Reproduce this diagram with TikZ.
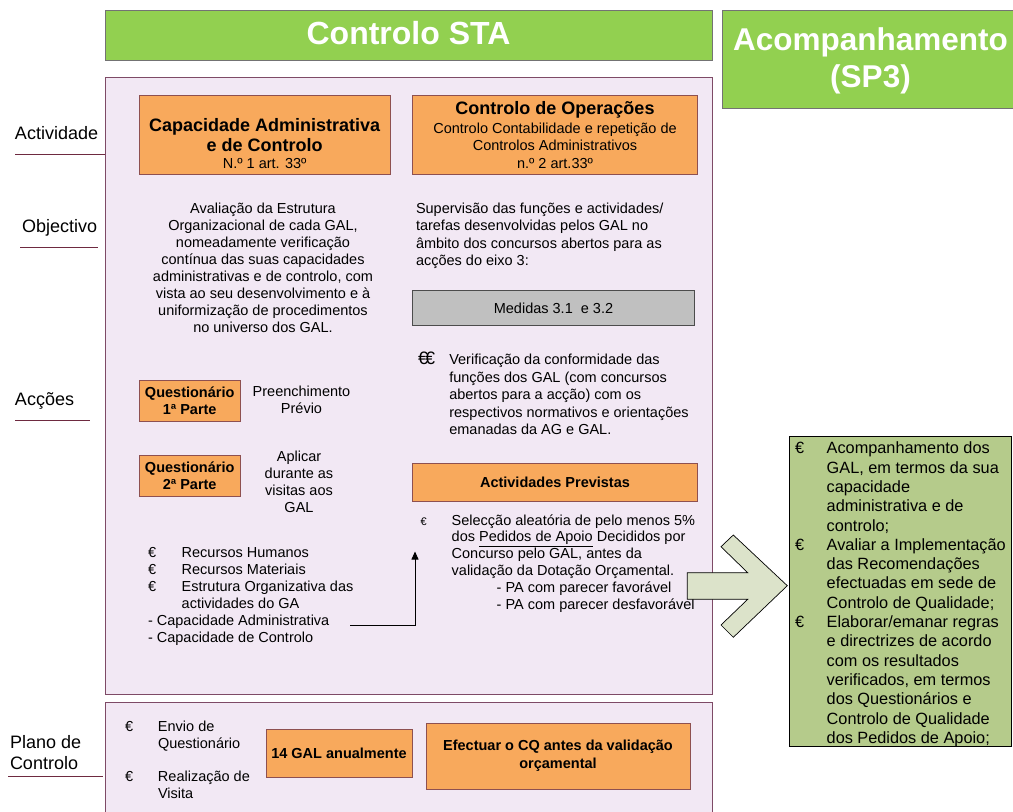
\documentclass[tikz,border=0pt]{standalone}
\usepackage{fontspec}
\setmainfont{Liberation Sans}
\usetikzlibrary{arrows.meta}
\definecolor{topgreen}{HTML}{92D050}
\definecolor{boxorange}{HTML}{F8A95C}
\definecolor{orangeline}{HTML}{8E5050}
\definecolor{panelfill}{HTML}{F2E8F4}
\definecolor{panelline}{HTML}{7E4A66}
\definecolor{rightgreen}{HTML}{B5CB8B}
\definecolor{arrowfill}{HTML}{DCE3CA}
\definecolor{greybox}{HTML}{C0C0C0}
\definecolor{labelline}{HTML}{6E2A40}
\newcommand{\bul}[1]{\makebox[#1][l]{\smash{€}}}
\begin{document}
\begin{tikzpicture}[x=1pt,y=-1pt,
  every node/.style={inner sep=0pt, outer sep=0pt},
  body/.style={font=\fontsize{14.5}{17}\selectfont},
  boldbody/.style={font=\fontsize{14.5}{17}\selectfont\bfseries},
  boxtitle/.style={font=\fontsize{18}{20}\selectfont\bfseries, align=center},
  orangebox/.style={draw=orangeline, fill=boxorange, line width=0.7pt},
  panel/.style={draw=panelline, fill=panelfill, line width=0.8pt},
  sidelabel/.style={font=\fontsize{18}{18}\selectfont, anchor=west},
  labelrule/.style={draw=labelline, line width=0.8pt},
  greenbar/.style={draw=black!55, fill=topgreen, line width=0.6pt, text=white},
]
\useasboundingbox (0,0) rectangle (1013,812);

% top bars
\node[greenbar, minimum width=607pt, minimum height=50pt, anchor=north west] (sta) at (105,10) {};
\node[text=white, font=\fontsize{32}{34}\selectfont\bfseries] (stat) at (408.5,33) {Controlo STA};
\node[greenbar, minimum width=298pt, minimum height=98pt, anchor=north west] (acomp) at (722,10) {};
\node[text=white, align=center, font=\fontsize{31.5}{37}\selectfont\bfseries] (acompt) at (870.5,61) {Acompanhamento\\(SP3)};

% panels
\node[panel, minimum width=607pt, minimum height=617pt, anchor=north west] (main) at (105,77) {};
\node[panel, minimum width=607pt, minimum height=130pt, anchor=north west] (plan) at (105,702) {};

% side labels
\node[sidelabel] (lact) at (15,133) {Actividade};
\draw[labelrule] (15,154) -- (105,154);
\node[sidelabel] (lobj) at (22,228) {Objectivo};
\draw[labelrule] (20,247) -- (98,247);
\node[sidelabel] (lacc) at (15,401) {Acções};
\draw[labelrule] (15,420) -- (90,420);
\node[align=left, anchor=north west, font=\fontsize{18}{21}\selectfont] (lplan) at (10,735.5) {Plano de\\Controlo};
\draw[labelrule] (8,776) -- (103,776);

% activity boxes
\node[orangebox, minimum width=250.7pt, minimum height=79.3pt, anchor=north west] (cap) at (139.3,95) {};
\node[boxtitle] (capt) at (264.7,135) {Capacidade Administrativa\\e de Controlo};
\node[body] (caps) at (264.7,163) {N.º 1 art. 33º};

\node[orangebox, minimum width=285.4pt, minimum height=79.3pt, anchor=north west] (ops) at (412.3,95) {};
\node[boxtitle] (opst) at (555,110) {Controlo de Operações};
\node[body, align=center, font=\fontsize{14.5}{17.5}\selectfont] (opss) at (555,145.8) {Controlo Contabilidade e repetição de\\Controlos Administrativos\\n.º 2 art.33º};

% objectives
\node[align=center, anchor=north, font=\fontsize{14.5}{17.06}\selectfont] (objl) at (263,202.7) {Avaliação da Estrutura\\Organizacional de cada GAL,\\nomeadamente verificação\\contínua das suas capacidades\\administrativas e de controlo, com\\vista ao seu desenvolvimento e à\\uniformização de procedimentos\\no universo dos GAL.};
\node[align=left, anchor=north west, font=\fontsize{14.5}{17.5}\selectfont] (objr) at (416,202.7) {Supervisão das funções e actividades/\\tarefas desenvolvidas pelos GAL no\\âmbito dos concursos abertos para as\\acções do eixo 3:};

\node[draw=black!70, fill=greybox, line width=0.7pt, minimum width=282pt, minimum height=35.7pt, anchor=north west] (med) at (412.3,290) {};
\node[body] (medt) at (553.5,308) {Medidas 3.1\ \ e 3.2};

% actions right
\node[align=left, anchor=north west, font=\fontsize{14.5}{17.5}\selectfont] (verif) at (418,354.4) {\makebox[31.3pt][l]{\smash{{\fontsize{18}{18}\selectfont €\kern-3pt€}}}Verificação da conformidade das\\ \hspace*{31.3pt}funções dos GAL (com concursos\\ \hspace*{31.3pt}abertos para a acção) com os\\ \hspace*{31.3pt}respectivos normativos e orientações\\ \hspace*{31.3pt}emanadas da AG e GAL.};

\node[orangebox, minimum width=285.4pt, minimum height=37.7pt, anchor=north west] (prev) at (412.3,463.3) {};
\node[boldbody] (prevt) at (555,482) {Actividades Previstas};

\node[align=left, anchor=north west, font=\fontsize{14.5}{16.9}\selectfont] (selec) at (420.7,514.4) {\makebox[31pt][l]{\smash{{\fontsize{11}{11}\selectfont €}}}Selecção aleatória de pelo menos 5\%\\ \hspace*{31pt}dos \underline{Pedidos de Apoio} Decididos por\\ \hspace*{31pt}Concurso pelo GAL, antes da\\ \hspace*{31pt}validação da Dotação Orçamental.\\ \hspace*{76pt}- PA com parecer favorável\\ \hspace*{76pt}- PA com parecer desfavorável};

% actions left
\node[orangebox, align=center, minimum width=100.7pt, minimum height=41pt, font=\fontsize{14.5}{16.7}\selectfont\bfseries] (q1) at (189.7,400.5) {Questionário\\1ª Parte};
\node[orangebox, align=center, minimum width=100.7pt, minimum height=41pt, font=\fontsize{14.5}{16.7}\selectfont\bfseries] (q2) at (189.7,475.8) {Questionário\\2ª Parte};
\node[body, align=center, anchor=north] (pre) at (301.5,386.4) {Preenchimento\\Prévio};
\node[body, align=center, anchor=north] (apl) at (299,451.4) {Aplicar\\durante as\\visitas aos\\GAL};

\node[body, align=left, anchor=north west] (rec) at (148,547.4) {\bul{33.7pt}Recursos Humanos\\ \bul{33.7pt}Recursos Materiais\\ \bul{33.7pt}Estrutura Organizativa das\\ \hspace*{33.7pt}actividades do GA\\ - Capacidade Administrativa\\ - Capacidade de Controlo};

% connector
\coordinate (capend) at (350,625.7);
\coordinate (selstart) at (415,551.5);
\draw[line width=0.8pt, -{Triangle[length=8pt,width=7pt]}] (capend) -| (selstart);

% big arrow
\draw[fill=arrowfill, draw=black, line width=0.7pt] (687.3,572.7) -- (747.7,572.7) -- (721,546.7) -- (733.3,535) -- (787.3,585.7) -- (733.3,637.3) -- (721,625) -- (747.7,599.3) -- (687.3,599.3) -- cycle;

% follow-up list
\node[draw=black, fill=rightgreen, line width=0.7pt, minimum width=222pt, minimum height=310pt, anchor=north west] (alist) at (789,436) {};
\node[align=left, anchor=north west, font=\fontsize{16.3}{19.3}\selectfont] (alistt) at (795,442) {\bul{31.7pt}Acompanhamento dos\\ \hspace*{31.7pt}GAL, em termos da sua\\ \hspace*{31.7pt}capacidade\\ \hspace*{31.7pt}administrativa e de\\ \hspace*{31.7pt}controlo;\\ \bul{31.7pt}Avaliar a Implementação\\ \hspace*{31.7pt}das Recomendações\\ \hspace*{31.7pt}efectuadas em sede de\\ \hspace*{31.7pt}Controlo de Qualidade;\\ \bul{31.7pt}Elaborar/emanar regras\\ \hspace*{31.7pt}e directrizes de acordo\\ \hspace*{31.7pt}com os resultados\\ \hspace*{31.7pt}verificados, em termos\\ \hspace*{31.7pt}dos Questionários e\\ \hspace*{31.7pt}Controlo de Qualidade\\ \hspace*{31.7pt}dos Pedidos de Apoio;};

% control plan
\node[align=left, anchor=north west, font=\fontsize{14.5}{16.7}\selectfont] (envio) at (125,721) {\bul{33pt}Envio de\\ \hspace*{33pt}Questionário\\[17pt] \bul{33pt}Realização de\\ \hspace*{33pt}Visita};
\node[orangebox, boldbody, minimum width=146pt, minimum height=48pt] (gal) at (339,753) {14 GAL anualmente};
\node[orangebox, align=center, minimum width=264pt, minimum height=66pt, font=\fontsize{14.5}{18}\selectfont\bfseries] (cq) at (558,756) {Efectuar o CQ antes da validação\\orçamental};
\end{tikzpicture}
\end{document}
